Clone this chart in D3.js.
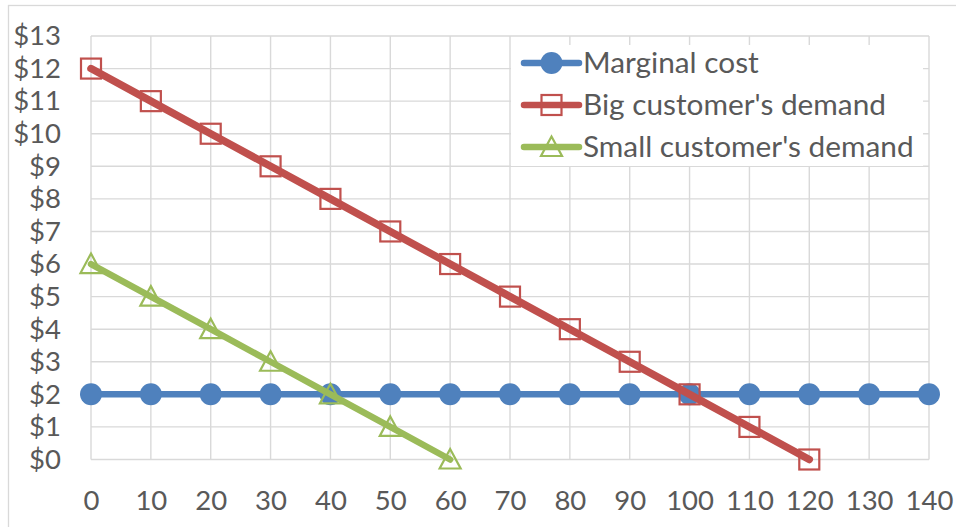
<!DOCTYPE html>
<html><head><meta charset="utf-8">
<script src="https://cdn.jsdelivr.net/npm/d3@7"></script>
<style>html,body{margin:0;padding:0;background:#fff;}svg{display:block;}</style>
</head><body>
<svg id="chart" width="956" height="527"></svg>
<script>
const xTicks = [0,10,20,30,40,50,60,70,80,90,100,110,120,130,140];
const yTicks = [0,1,2,3,4,5,6,7,8,9,10,11,12,13];
const mcX = [0,10,20,30,40,50,60,70,80,90,100,110,120,130,140];
const mcY = [2,2,2,2,2,2,2,2,2,2,2,2,2,2,2];
const bigX = [0,10,20,30,40,50,60,70,80,90,100,110,120];
const bigY = [12,11,10,9,8,7,6,5,4,3,2,1,0];
const smallX = [0,10,20,30,40,50,60];
const smallY = [6,5,4,3,2,1,0];
const seriesNames = ["Marginal cost","Big customer's demand","Small customer's demand"];

(function(){
const svg = d3.select("#chart");
const W = 956, H = 527;
const pL = 91, pR = 929, pT = 36, pB = 459.5;
const x = d3.scaleLinear().domain([0,140]).range([pL,pR]);
const y = d3.scaleLinear().domain([0,13]).range([pB,pT]);
const font = "Lato, 'Open Sans', sans-serif";
const txt = "#595959";
const grid = "#d9d9d9";

// outer border
svg.append("rect").attr("x",8.5).attr("y",5.5).attr("width",W).attr("height",H)
  .attr("fill","#fff").attr("stroke",grid).attr("stroke-width",1.3);

// gridlines
const g = svg.append("g");
g.selectAll("line.v").data(xTicks).join("line")
  .attr("x1",d=>x(d)).attr("x2",d=>x(d)).attr("y1",pT).attr("y2",pB)
  .attr("stroke",grid).attr("stroke-width",1.4);
g.selectAll("line.h").data(yTicks).join("line")
  .attr("y1",d=>y(d)).attr("y2",d=>y(d)).attr("x1",pL).attr("x2",pR)
  .attr("stroke",grid).attr("stroke-width",1.4);

// axes labels via d3 axes
const xAxis = svg.append("g").attr("transform",`translate(0,${pB})`)
  .call(d3.axisBottom(x).tickValues(xTicks).tickSize(0).tickPadding(42).tickFormat(d=>d));
const yAxis = svg.append("g").attr("transform",`translate(${pL},0)`)
  .call(d3.axisLeft(y).tickValues(yTicks).tickSize(0).tickPadding(30).tickFormat(d=>"$"+d));
[xAxis,yAxis].forEach(a=>{
  a.select(".domain").remove();
  a.selectAll("text").attr("fill",txt).style("font-family",font).style("font-size","27.5px");
});
xAxis.selectAll("text").attr("dy","0.32em");

const colors = ["#4f81bd","#c0504d","#9bbb59"];
const line = d3.line().x(d=>x(d[0])).y(d=>y(d[1]));

function drawMarker(sg, cx, cy, color, marker){
  if(marker==="circle"){
    sg.append("circle").attr("cx",cx).attr("cy",cy).attr("r",11).attr("fill",color);
  } else if(marker==="square"){
    sg.append("rect").attr("x",cx-10).attr("y",cy-10).attr("width",20).attr("height",20)
      .attr("fill","none").attr("stroke",color).attr("stroke-width",2.2);
  } else {
    sg.append("path").attr("d","M0,-10.5L10.5,9L-10.5,9Z").attr("transform",`translate(${cx},${cy})`)
      .attr("fill","none").attr("stroke",color).attr("stroke-width",2.2).attr("stroke-linejoin","miter");
  }
}
function series(xs, ys, color, w, marker){
  const pts = xs.map((v,i)=>[v,ys[i]]);
  const sg = svg.append("g");
  sg.append("path").datum(pts).attr("d",line).attr("fill","none")
    .attr("stroke",color).attr("stroke-width",w).attr("stroke-linecap","round");
  pts.forEach(p=>drawMarker(sg, x(p[0]), y(p[1]), color, marker));
}
series(mcX, mcY, colors[0], 6.5, "circle");
series(bigX, bigY, colors[1], 7.5, "square");
series(smallX, smallY, colors[2], 6.5, "triangle");

// legend
const lg = svg.append("g");
lg.append("rect").attr("x",511).attr("y",45).attr("width",412).attr("height",121).attr("fill","#fff");
const markers = ["circle","square","triangle"];
const rowY = [63,105,147];
seriesNames.forEach((n,i)=>{
  lg.append("line").attr("x1",524).attr("x2",579).attr("y1",rowY[i]).attr("y2",rowY[i])
    .attr("stroke",colors[i]).attr("stroke-width",6.5).attr("stroke-linecap","round");
  drawMarker(lg, 551.5, rowY[i], colors[i], markers[i]);
  lg.append("text").attr("x",583).attr("y",rowY[i]).attr("dy","0.35em")
    .attr("fill",txt).style("font-family",font).style("font-size","29.8px").text(n);
});
})();
</script>
</body></html>
